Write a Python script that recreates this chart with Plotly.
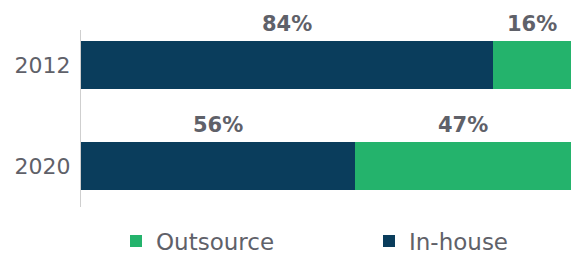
import plotly.graph_objects as go

years = ["2012", "2020"]
inhouse = [84, 56]
outsource = [16, 47]
inhouse_labels = ["84%", "56%"]
outsource_labels = ["16%", "47%"]

NAVY = "#0a3d5c"
GREEN = "#24b36c"
GRAY = "#5f6169"
FONT = "DejaVu Sans"

fig = go.Figure()
fig.add_trace(go.Bar(y=years, x=inhouse, name="In-house", orientation="h",
                     marker=dict(color=NAVY, line=dict(width=0)), width=0.475,
                     legend="legend2", hoverinfo="skip"))
fig.add_trace(go.Bar(y=years, x=outsource, name="Outsource", orientation="h",
                     marker=dict(color=GREEN, line=dict(width=0)), width=0.475,
                     legend="legend", hoverinfo="skip"))

XMAX = 100
for i, y in enumerate(years):
    c1 = inhouse[i] / 2
    s2 = inhouse[i]
    e2 = min(inhouse[i] + outsource[i], XMAX)
    c2 = (s2 + e2) / 2
    for cx, txt in [(c1, inhouse_labels[i]), (c2, outsource_labels[i])]:
        fig.add_annotation(x=cx, y=i, xref="x", yref="y", text="<b>" + txt + "</b>",
                           showarrow=False, yshift=41,
                           font=dict(family=FONT, size=21, color=GRAY))

leg_common = dict(orientation="h", xref="container", yref="container",
                  xanchor="left", y=(255 - 241) / 255, yanchor="middle",
                  font=dict(family=FONT, size=23, color=GRAY),
                  bgcolor="rgba(0,0,0,0)")

fig.update_layout(
    barmode="stack",
    width=571, height=255,
    margin=dict(l=81, r=0, t=30, b=48, autoexpand=False),
    plot_bgcolor="white", paper_bgcolor="white",
    font=dict(family=FONT, size=22, color=GRAY),
    showlegend=True,
    legend=dict(x=116 / 571, **leg_common),
    legend2=dict(x=369 / 571, **leg_common),
    xaxis=dict(range=[0, XMAX], visible=False, automargin=False),
    yaxis=dict(type="category", range=[1.406, -0.3465], showline=True,
               linecolor="#cfcfcf", linewidth=1, showgrid=False, ticks="",
               automargin=False, ticklabelstandoff=5,
               tickfont=dict(family=FONT, size=22, color=GRAY)),
)

fig.write_html("out.html", config={"displayModeBar": False},
               post_script="document.body.style.margin='0';")
